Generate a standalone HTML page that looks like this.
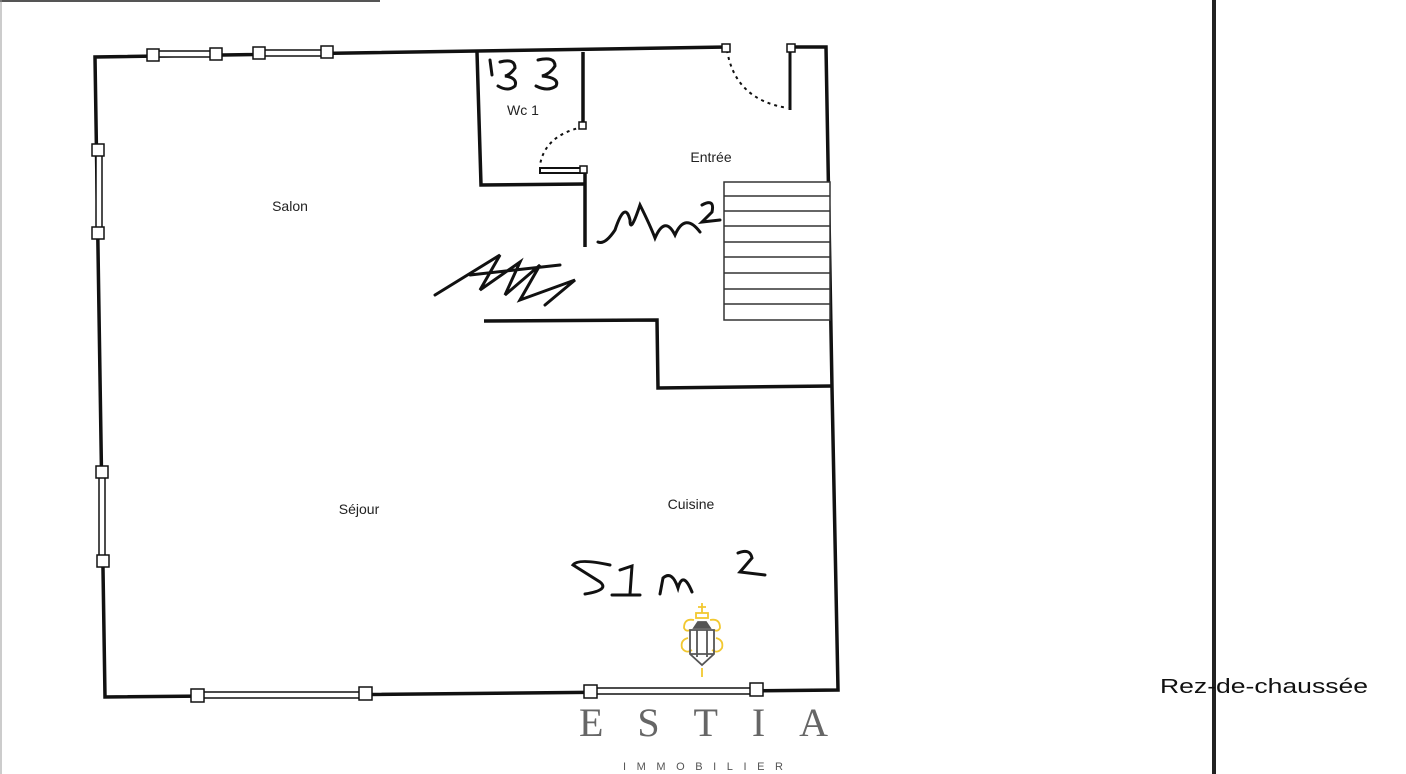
<!DOCTYPE html>
<html><head><style>
html,body{margin:0;padding:0;background:#fff;width:1406px;height:774px;overflow:hidden}
</style></head><body>
<svg width="1406" height="774" viewBox="0 0 1406 774" xmlns="http://www.w3.org/2000/svg" font-family="Liberation Sans, DejaVu Sans, sans-serif">
<line x1="0" y1="1" x2="380" y2="1" stroke="#555" stroke-width="2"/>
<line x1="1" y1="0" x2="1" y2="774" stroke="#999" stroke-width="1"/>
<line x1="1214" y1="0" x2="1214" y2="774" stroke="#222" stroke-width="4"/>
<g stroke="#111" stroke-width="3.5" fill="none">
<path d="M727 47 L95 57 L105 697 L838 690 L832 388 L826 47 L791 47"/>
<path d="M477 52 L481 185 L585 184"/>
<path d="M583 52 L583 125"/>
<path d="M585 170 L585 247"/>
<path d="M484 321 L657 320 L658 388 L832 386"/>
<path d="M790 47 L790 110" stroke-width="3"/>
</g>
<g stroke="#111" stroke-width="2" fill="none" stroke-dasharray="3 4">
<path d="M727 50 Q735 100 788 108"/>
<path d="M583 127 Q545 135 540 165"/>
</g>
<rect x="540" y="168" width="44" height="5" fill="#fff" stroke="#111" stroke-width="2"/>
<g stroke="#333" stroke-width="1.5" fill="#fff">
<rect x="724" y="182" width="106" height="138"/>
<line x1="724" y1="196" x2="830" y2="196"/><line x1="724" y1="211" x2="830" y2="211"/>
<line x1="724" y1="226" x2="830" y2="226"/><line x1="724" y1="242" x2="830" y2="242"/>
<line x1="724" y1="257" x2="830" y2="257"/><line x1="724" y1="273" x2="830" y2="273"/>
<line x1="724" y1="289" x2="830" y2="289"/><line x1="724" y1="304" x2="830" y2="304"/>
</g>
<g stroke="#111" stroke-width="1.5" fill="#fff">
<rect x="153" y="51" width="62" height="6"/><rect x="259" y="50" width="68" height="6"/>
<rect x="96" y="150" width="6" height="83"/><rect x="99" y="472" width="6" height="89"/>
<rect x="197" y="692" width="168" height="6"/><rect x="590" y="688" width="167" height="6"/>
<rect x="147" y="49" width="12" height="12"/><rect x="210" y="48" width="12" height="12"/>
<rect x="253" y="47" width="12" height="12"/><rect x="321" y="46" width="12" height="12"/>
<rect x="92" y="144" width="12" height="12"/><rect x="92" y="227" width="12" height="12"/>
<rect x="96" y="466" width="12" height="12"/><rect x="97" y="555" width="12" height="12"/>
<rect x="191" y="689" width="13" height="13"/><rect x="359" y="687" width="13" height="13"/>
<rect x="584" y="685" width="13" height="13"/><rect x="750" y="683" width="13" height="13"/>
<rect x="722" y="44" width="8" height="8"/><rect x="787" y="44" width="8" height="8"/>
<rect x="579" y="122" width="7" height="7"/><rect x="580" y="166" width="7" height="7"/>
</g>
<g font-size="14" fill="#222" text-anchor="middle">
<text x="290" y="211">Salon</text>
<text x="359" y="514">Séjour</text>
<text x="691" y="509">Cuisine</text>
<text x="711" y="162">Entrée</text>
<text x="523" y="115">Wc 1</text>
</g>
<text x="1160" y="693" font-size="20" fill="#111" textLength="208" lengthAdjust="spacingAndGlyphs">Rez-de-chaussée</text>
<g stroke="#111" stroke-width="3" fill="none" stroke-linecap="round">
<path d="M490 60 L492 75 M500 62 Q515 58 515 68 Q510 75 505 76 Q518 78 515 86 Q508 92 498 86 M538 60 Q555 56 555 66 Q550 74 542 76 Q560 78 556 86 Q548 92 536 86"/>
<path d="M598 242 Q605 245 615 230 Q625 200 630 220 Q630 235 640 205 Q650 225 655 238 Q665 215 675 235 Q685 212 700 232 M702 205 Q715 198 712 212 L702 222 L720 220"/>
<path d="M435 295 L500 255 L480 290 L520 262 L505 295 L540 265 L520 300 L575 280 L545 305 M470 275 L560 265"/>
<path d="M610 565 Q578 558 573 565 L600 582 Q610 590 585 594 M620 570 L632 566 L630 594 M612 595 L640 595 M660 594 L663 578 Q672 570 678 588 Q683 570 692 592"/>
<path d="M738 553 Q750 548 752 558 L740 572 L765 575"/>
</g>
<g transform="translate(702,640)">
<g stroke="#f2c830" stroke-width="1.8" fill="none">
<path d="M0 -37 L0 -27 M-4 -33 L4 -33"/>
<rect x="-6" y="-27" width="12" height="5"/>
<path d="M-8 -20 Q-18 -22 -18 -12 Q-16 -8 -12 -10 M8 -20 Q18 -22 18 -12 Q16 -8 12 -10"/>
<path d="M-14 -2 Q-22 0 -20 8 Q-16 14 -10 10 M14 -2 Q22 0 20 8 Q16 14 10 10"/>
<path d="M0 28 L0 37"/>
</g>
<g stroke="#555" stroke-width="1.8" fill="none">
<path d="M-4 -18 L4 -18 L8 -12 L-8 -12 Z" fill="#555"/>
<path d="M-12 -10 L12 -10 L12 14 L0 25 L-12 14 Z M-5 -10 L-5 17 M5 -10 L5 17 M-12 14 L12 14"/>
</g>
</g>
<text x="579" y="736" font-family="Liberation Serif, serif" font-size="40" fill="#666" textLength="249" lengthAdjust="spacing">ESTIA</text>
<text x="623" y="770" font-size="11" fill="#555" textLength="160" lengthAdjust="spacing">IMMOBILIER</text>
</svg>
</body></html>
